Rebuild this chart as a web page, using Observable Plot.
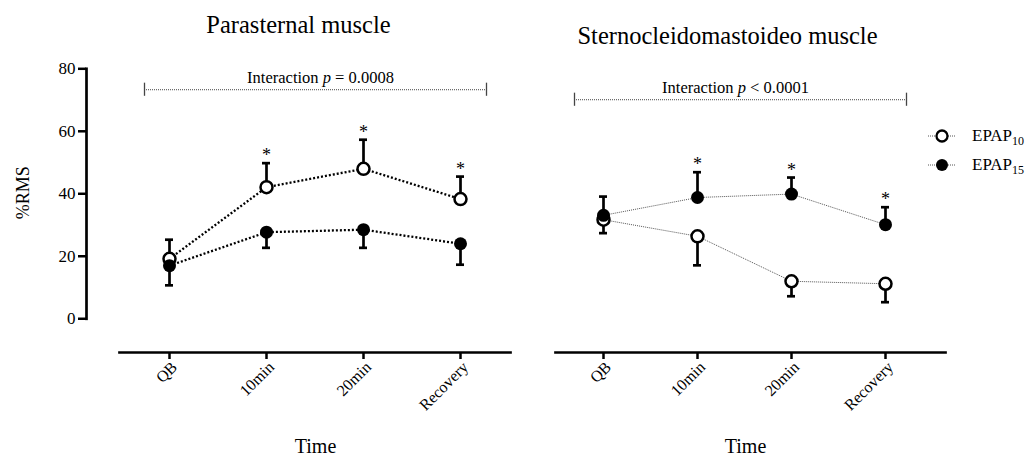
<!DOCTYPE html>
<html><head><meta charset="utf-8">
<script src="https://cdn.jsdelivr.net/npm/d3@7"></script>
<script src="https://cdn.jsdelivr.net/npm/@observablehq/plot@0.6"></script>
<style>
body{margin:0;background:#fff;}
#chart{position:relative;width:1026px;height:455px;font-family:"Liberation Serif",serif;background:#fff;overflow:hidden;}
#chart svg.plot{position:absolute;top:0;}
.lg-row{position:absolute;height:18px;display:flex;align-items:center;font-size:17px;color:#000;white-space:nowrap;}
.lg-row svg{margin-right:16px;}
.lg-row sub{font-size:12px;vertical-align:-4px;line-height:0;}
</style></head><body><div id="chart"></div>
<script>
// ---- data ----
const times = ["QB", "10min", "20min", "Recovery"];
const seriesKeys = ["EPAP10", "EPAP15"];
const yTicks = [0, 20, 40, 60, 80];
const panelTitles = ["Parasternal muscle", "Sternocleidomastoideo muscle"];
const interactionLabels = ["Interaction p = 0.0008", "Interaction p < 0.0001"];
const bracketLevels = [73.3, 70.1];

// Parasternal muscle
const paraEpap10 = [19.2, 42.1, 48.0, 38.3];
const paraEpap10Sd = [6.1, 7.7, 9.3, 7.2];
const paraEpap15 = [17.0, 27.7, 28.5, 24.0];
const paraEpap15Sd = [6.3, 5.0, 5.8, 6.7];
const paraSignificant = [false, true, true, true];

// Sternocleidomastoideo muscle
const sternoEpap10 = [31.7, 26.4, 12.0, 11.2];
const sternoEpap10Sd = [4.3, 9.3, 4.8, 5.9];
const sternoEpap15 = [33.1, 38.8, 39.9, 30.1];
const sternoEpap15Sd = [6.0, 8.1, 5.3, 5.6];
const sternoSignificant = [false, true, true, true];

// ---- panel layout / style configuration ----
const panels = [
  {title: panelTitles[0], interaction: interactionLabels[0], bracketLevel: bracketLevels[0],
   m10: paraEpap10, s10: paraEpap10Sd, m15: paraEpap15, s15: paraEpap15Sd, sig: paraSignificant,
   upSeries: "EPAP10", left: 0, width: 520, marginLeft: 86, marginRight: 10, padding: 0.668, align: 0.625,
   yAxis: true, axisInset: 33, bracketInset: [-25, -26], interactionDx: 22, titleDx: 0, titleDy: -36, timeDx: 17,
   line: {stroke: "#000", strokeWidth: 2.3, strokeDasharray: "2,2", strokeLinecap: "butt"}},
  {title: panelTitles[1], interaction: interactionLabels[1], bracketLevel: bracketLevels[1],
   m10: sternoEpap10, s10: sternoEpap10Sd, m15: sternoEpap15, s15: sternoEpap15Sd, sig: sternoSignificant,
   upSeries: "EPAP15", left: 520, width: 506, marginLeft: 35, marginRight: 81, padding: 0.557, align: 0.448,
   yAxis: false, axisInset: 0, bracketInset: [-29, -21], interactionDx: -15, titleDx: -23, titleDy: -25, timeDx: -5,
   line: {stroke: "#555", strokeWidth: 1, strokeDasharray: "1,1", strokeLinecap: "butt"}}
];

function drawPanel(p) {
  const rows = [];
  [["EPAP10", p.m10, p.s10], ["EPAP15", p.m15, p.s15]].forEach(([name, means, sds]) => {
    times.forEach((t, i) => rows.push({
      time: t, series: name, mean: means[i],
      end: means[i] + (name === p.upSeries ? sds[i] : -sds[i]),
      sig: name === p.upSeries && p.sig[i]
    }));
  });
  const bracket = [{from: times[0], to: times[times.length - 1], y: p.bracketLevel, label: p.interaction}];
  const marks = [
    Plot.ruleY(bracket, {x1: "from", x2: "to", y: "y", insetLeft: p.bracketInset[0], insetRight: p.bracketInset[1],
      stroke: "#444", strokeWidth: 1, strokeDasharray: "1,1"}),
    Plot.ruleX(bracket, {x: "from", y1: d => d.y - 2.1, y2: d => d.y + 2.1, dx: p.bracketInset[0], stroke: "#444", strokeWidth: 1.3}),
    Plot.ruleX(bracket, {x: "to", y1: d => d.y - 2.1, y2: d => d.y + 2.1, dx: -p.bracketInset[1], stroke: "#444", strokeWidth: 1.3}),
    Plot.text(bracket, {y: "y", text: "label", frameAnchor: "top", textAnchor: "middle", lineAnchor: "bottom",
      dx: p.interactionDx, dy: -7, fontSize: 16.5}),
    Plot.ruleX(rows, {x: "time", y1: "mean", y2: "end", stroke: "#000", strokeWidth: 2.7}),
    Plot.ruleY(rows, {x1: "time", x2: "time", y: "end", insetLeft: -4, insetRight: -4, stroke: "#000", strokeWidth: 2.7}),
    Plot.line(rows, {x: "time", y: "mean", z: "series", ...p.line}),
    Plot.dot(rows.filter(d => d.series === "EPAP10"), {x: "time", y: "mean", r: 6, fill: "white", stroke: "#000", strokeWidth: 2.5}),
    Plot.dot(rows.filter(d => d.series === "EPAP15"), {x: "time", y: "mean", r: 6.5, fill: "#000"}),
    Plot.text(rows.filter(d => d.sig), {x: "time", y: "end", text: () => "*", lineAnchor: "bottom", dy: -2, fontSize: 18}),
    Plot.text([p.title], {frameAnchor: "top", textAnchor: "middle", lineAnchor: "bottom", dx: p.titleDx, dy: p.titleDy, fontSize: 24.5}),
    Plot.axisX({tickSize: 7, text: null, strokeWidth: 2.5, label: null}),
    Plot.axisX({tickSize: 0, tickRotate: -45, tickPadding: 10, dx: 5, dy: 2, fontSize: 16, label: null}),
    Plot.frame({anchor: "bottom", insetLeft: p.axisInset, stroke: "#000", strokeWidth: 2.7}),
    Plot.text(["Time"], {frameAnchor: "bottom", textAnchor: "middle", lineAnchor: "bottom", dx: p.timeDx, dy: 100, fontSize: 20})
  ];
  if (p.yAxis) {
    marks.push(
      Plot.axisY({ticks: yTicks, tickSize: 8, tickPadding: 3, fontSize: 17, strokeWidth: 2.5, label: null}),
      Plot.frame({anchor: "left", insetBottom: 33.7, stroke: "#000", strokeWidth: 2.7}),
      Plot.text(["%RMS"], {frameAnchor: "left", textAnchor: "middle", rotate: -90, dx: -63.5, dy: -18, fontSize: 18})
    );
  }
  const svg = Plot.plot({
    width: p.width, height: 455,
    marginLeft: p.marginLeft, marginRight: p.marginRight, marginTop: 68.3, marginBottom: 103,
    style: {fontFamily: "Liberation Serif", color: "#000", background: "transparent", overflow: "visible"},
    x: {type: "point", domain: times, padding: p.padding, align: p.align, axis: null},
    y: {domain: [-10.8, 80], axis: null},
    marks
  });
  svg.classList.add("plot");
  svg.style.left = p.left + "px";
  return svg;
}

const chart = document.getElementById("chart");
panels.forEach(p => chart.appendChild(drawPanel(p)));

// italic "p" in the interaction labels
d3.select(chart).selectAll("text").filter(function () { return /^Interaction p /.test(this.textContent); })
  .each(function () {
    const m = this.textContent.match(/^(Interaction )(p)( .*)$/);
    const t = d3.select(this).text(null);
    t.append("tspan").text(m[1]);
    t.append("tspan").attr("font-style", "italic").text(m[2]);
    t.append("tspan").text(m[3]);
  });

// legend
const legendStyles = {
  EPAP10: {fill: "white", stroke: "#000", sw: 2.3, r: 5.5},
  EPAP15: {fill: "#000", stroke: "none", sw: 0, r: 6}
};
seriesKeys.forEach((key, i) => {
  const [, base, sub] = key.match(/^(\D+)(\d+)$/);
  const row = document.createElement("div");
  row.className = "lg-row";
  row.style.left = "928px";
  row.style.top = (127 + i * 29) + "px";
  const s = legendStyles[key];
  row.innerHTML = `<svg width="28" height="18"><line x1="0" x2="28" y1="9" y2="9" stroke="#555" stroke-width="1" stroke-dasharray="1,1"/>` +
    `<circle cx="14" cy="9" r="${s.r}" fill="${s.fill}" stroke="${s.stroke}" stroke-width="${s.sw}"/></svg>` +
    `<span>${base}<sub>${sub}</sub></span>`;
  chart.appendChild(row);
});
</script></body></html>
